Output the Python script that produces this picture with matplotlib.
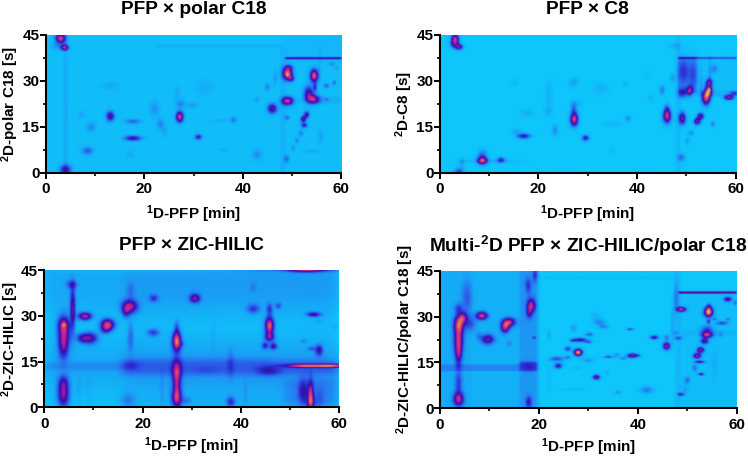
import numpy as np
import matplotlib
matplotlib.use("Agg")
import matplotlib.pyplot as plt
from matplotlib.colors import LinearSegmentedColormap
from matplotlib.ticker import MultipleLocator

plt.rcParams['font.family'] = ['Liberation Sans', 'DejaVu Sans']
plt.rcParams['font.weight'] = 'bold'
plt.rcParams['axes.labelweight'] = 'bold'
plt.rcParams['mathtext.fontset'] = 'custom'
plt.rcParams['mathtext.bf'] = 'Liberation Sans:bold'
plt.rcParams['mathtext.rm'] = 'Liberation Sans:bold'

# peaks: 1D time [min], 2D time [s], width in 1D, width in 2D, intensity
polar_peaks = [
    (2.9, 44, .5, 1.0, .72), (3.7, 41, .42, .6, .62), (3.9, 1, .6, 1.0, .42), (1.8, 41.5, .5, .8, .1),
    (3.9, 20, .25, 20, .07), (13, 18.5, .42, 1.0, .5), (17.6, 11.3, .85, .55, .44), (17.6, 16.8, .8, .5, .22),
    (8.4, 7.2, .6, .8, .24), (9.1, 15, .5, 1, .14), (7.2, 19, .4, .8, .07), (13, 28.5, .9, .7, .07),
    (17, 6, .4, .8, .07), (27.1, 18.3, .38, 1.1, .72), (27.3, 22.5, .5, .8, .15), (29.7, 22, .6, .6, .1),
    (26.6, 26, .35, 1.5, .07), (32.3, 28, .9, 1.5, .06), (30.9, 11.7, .38, .6, .36), (23.2, 16, .4, 1.2, .14),
    (24, 13.5, .3, 1, .08), (22, 21, .5, 1.5, .12), (38, 17.3, .3, .6, .2), (35.5, 17, .8, .4, .07),
    (36, 7.5, .5, .5, .07), (45.9, 21, .5, 1.0, .5), (42.8, 6, .5, 1.2, .13), (44.9, 28, .3, .8, .15),
    (42.8, 24, .3, .6, .1), (46.5, 31, .25, 1.5, .1), (49, 32.5, .5, 1.3, .82), (49, 32, .12, .35, .15),
    (49.8, 30.8, .3, .6, .35), (49.3, 34.5, .4, .5, .25), (49, 23.5, .6, .85, .7), (48.9, 18, .3, .5, .2),
    (48.8, 4.5, .3, .8, .2), (54.4, 31.8, .42, 1.3, .76), (54.2, 24, .7, .9, .55), (53.3, 26, .5, 1.5, .46),
    (52.9, 19, .3, .7, .42), (52.2, 17.5, .3, .7, .46), (52.4, 15.5, .35, .5, .36), (51.7, 13, .25, .6, .16),
    (50.9, 10.5, .25, .7, .14), (50.1, 8, .25, .6, .12), (54.6, 28, .2, 1, .3), (56.9, 28.5, .3, .5, .22),
    (58.5, 29.5, .2, .5, .2), (58, 35.5, .4, .5, .12), (59, 34, .2, .4, .1), (56.9, 24, .25, .4, .14),
    (55.7, 12, .3, 1.5, .08), (54, 7, .8, .3, .08), (55.5, 36, .15, 3, .06),
]
# boxes: 1D start, 1D end, 2D start, 2D end, level
polar_boxes = [
    (0, 60, 0, 45, .03), (22, 47.5, 41, 42, .045), (47.5, 48.6, 0, 42, .04), (48.5, 60, 37.2, 37.8, .5),
    (48.5, 60, 36, 45, .02), (54, 60, 22.5, 25, .05),
]

c8_peaks = [
    (3, 43.5, .4, 1.3, .72), (3.8, 41.2, .42, .6, .5), (2.4, 42, .3, .7, .15), (3.8, .3, .5, .8, .3),
    (4.4, 3.5, .3, 1, .13), (8.5, 4, .5, .8, .72), (8.5, 6, .5, 1, .2), (12.3, 4.2, .4, .6, .36),
    (10, 3.8, 3, .4, .08), (16.9, 12, .7, .55, .42), (15.5, 13.5, .6, .6, .1), (17.5, 19.5, .7, .8, .08),
    (15, 29.5, .4, .8, .05), (22, 25, .4, 3, .07), (21.8, 20, .5, 1, .08), (27.1, 17.5, .42, 1.4, .74),
    (27, 21, .3, 1.2, .2), (27, 29.5, .5, 1, .12), (27.5, 22.5, .6, .8, .08), (29.4, 11.4, .38, .6, .42),
    (23.2, 14, .3, 1.2, .16), (32.5, 27.5, .8, 1.2, .07), (38, 17.8, .3, .7, .16), (35, 16, 1, .6, .06),
    (37.4, 29, .3, .7, .07), (34.8, 7, .4, .7, .05), (45.9, 18.5, .42, 1.4, .7), (45.9, 21, .3, 1, .2),
    (49, 17.8, .38, 1.3, .56), (44.9, 27, .3, 1, .2), (42.5, 24.5, .3, .7, .08), (41.8, 32, .3, .8, .05),
    (47, 31, .3, .9, .12), (47.5, 41.5, .6, .6, .1), (48.8, 5, .4, .8, .22), (49, 26, .5, 1, .36),
    (50.5, 26.8, .35, 1, .48), (49.2, 33, .6, 3, .25), (51.2, 32, .5, 3.5, .2), (54.3, 26.8, .38, 1.2, .66),
    (53.8, 24.4, .42, 1.4, .72), (54.5, 27.3, .12, .3, .3), (54.4, 29.6, .35, .8, .45), (58.4, 24.6, .5, .5, .62),
    (59.5, 26, .5, .5, .3), (52.7, 18.5, .35, .7, .54), (52, 16.8, .35, .7, .56), (55.2, 16, .25, .6, .2),
    (54.6, 33, .2, 3, .1), (55.5, 34, .3, .8, .18), (52.8, 28, .15, 3, .1), (50.8, 13, .3, .6, .15),
    (50, 10.5, .25, .7, .14),
]
c8_boxes = [
    (47.7, 48.6, 0, 45, .05), (48.2, 60, 37.3, 37.8, .36), (48.2, 52, 26, 38, .1), (52, 60, 27, 38, .03),
    (52, 60, 25, 27, .07),
]

zic_peaks = [
    (4, 24.5, .5, 3.2, .56), (3.9, 27, .45, 1.3, .25), (4, 26.8, .12, .35, .2), (3.9, 19, .4, 2.5, .3), (3.9, 4, .48, 2.8, .52),
    (3.9, 8, .4, 1.5, .22), (5.8, 32, .22, 4.5, .45), (5.6, 40, .4, .8, .28), (8.3, 29.6, .55, .8, .6),
    (7.7, 22.5, .5, 1, .33), (9.4, 22.5, .6, 1.2, .44), (12.9, 26.8, .55, 1.2, .74), (12.4, 25, .4, .8, .2),
    (17.4, 32.8, .62, 1.4, .55), (16.6, 31, .3, 1.2, .25), (17.6, 23, .25, 3, .18), (17.6, 38, .3, 1.5, .12),
    (17.5, 13.5, .7, 1, .12), (17, 2, .6, 1.5, .14), (22.3, 35.5, .35, .8, .25), (22.2, 24.3, .5, .8, .28),
    (30.7, 35.5, .42, .9, .48), (28, 20.5, .3, .5, .1), (27, 21.5, .35, 2, .78), (27, 26, .2, 1.5, .18),
    (27, 11, .38, 3, .44), (27, 2.8, .42, 2, .52), (27, 6.5, .25, 3, .25), (29, 2, .4, .7, .12), (38, 1.5, .35, 1.1, .3),
    (38, 14, .3, 3, .1), (42.6, 32, .5, 1, .26), (42.6, 39, .25, 1, .08), (45.9, 26.5, .36, 1.8, .76),
    (45.9, 22.8, .4, .9, .42), (45.9, 32, .25, 1.2, .26), (45, 20, .26, .7, .32), (46.7, 19.8, .3, .7, .36),
    (47.7, 33, .25, .7, .2), (45.7, 11.8, .9, 1, .2), (53.5, 45, 1.4, .6, .5), (53.5, 45, 5, .5, .2),
    (54.3, 3.3, .22, 3.2, .54), (52.8, 5, .4, 2.5, .3), (54.3, 1, .4, 1.5, .2), (56.1, 2.5, .4, 2.5, .1),
    (54.9, 30.2, .55, .5, .42), (56, 18.5, .3, 1.1, .38), (52.8, 21.5, .25, .5, .1), (54.5, 19, .3, .5, .16),
    (59.3, 26, .3, .6, .06), (56, 28, .3, .5, .06), (34.5, 23, .2, 3, .04), (24, 5, .2, 4, .05),
    (7, 5, .2, 3, .05), (9, 4, .25, 3, .04), (33, 12, 1, .8, .05), (41, 4, .2, 3, .05),
    (52, 13.4, 1.2, .35, .3), (56, 13.4, 2.2, .35, .42), (60, 13.4, 1.8, .35, .36),
    (38, 26, 22, 4.5, -.09), (8, 2, 6, 4, -.04), (38, 3, 16, 3, -.04),
]
zic_boxes = [
    (0, 16, 12.4, 14, .12), (16, 46, 10.5, 15.5, .14), (46, 60, 10.6, 15, .14),
    (0, 60, 0, 45, .1), (16, 60, 0, 45, .03), (49, 60, 0, 9, .08),
]

multi_peaks = [
    (3.7, 23, .45, 3.8, .58), (3.8, 27.5, .5, 1.6, .4), (4.6, 29.5, .4, 1.1, .44), (3.7, 17.5, .3, 2.5, .3),
    (3.7, 32.5, .4, 1, .2), (3.7, 2.8, .5, 1.4, .56), (3.7, 8, .35, 2.5, .24), (5.4, 36, .5, 3.5, .18),
    (6, 27.5, .6, 1.5, .2), (8.4, 30.1, .55, .8, .66), (9.6, 22.4, .62, 1, .48), (7.8, 23.5, .3, .8, .12),
    (13.9, 28, .62, .9, .6), (13.1, 26.3, .42, 1.1, .58), (14, 21, .3, .7, .1), (18.4, 33.5, .42, 1.4, .52),
    (18, 31, .3, 1.2, .28), (17.8, 40, .3, 1.6, .22), (17.9, 1.8, .3, 1.2, .3), (17.9, 13.5, .8, 1, .14),
    (19.2, 43.5, .25, 1.5, .22), (19, 23, .2, .3, .2), (23.6, 16, .7, .5, .3), (23.9, 13.7, .4, .6, .42),
    (25.8, 19.3, .32, .5, .34), (25.8, 16.5, .3, .4, .2), (27.9, 18.1, .4, .7, .92), (28.3, 22.2, .7, .45, .45),
    (26.8, 22, .3, .3, .25), (30, 21.5, .4, .3, .25), (29.8, 15.5, .6, .5, .14), (30.2, 24, .4, .4, .25),
    (31.6, 10, .35, .5, .58), (32.2, 28, .6, .6, .18), (33, 26.5, .5, .5, .18), (31.5, 30, .5, .8, .08),
    (27, 26, .3, .8, .14), (34, 16.7, .4, .3, .25), (35.7, 17.3, .3, .3, .2), (37, 16, .3, .3, .18),
    (38.9, 17.1, .5, .45, .6), (40.2, 17.1, .25, .2, .2), (38.4, 25.7, .35, .3, .28), (36, 16.5, 2, .2, .08),
    (43.3, 23, .42, .45, .44), (41.8, 5.8, .65, .7, .2), (36, 5, .3, .4, .14), (45.8, 20.2, .36, .8, .62),
    (45.8, 23, .3, .6, .2), (47.7, 24.5, .3, .4, .14), (48.2, 22.8, .4, .4, .24), (47.7, 36, .28, 3, .17),
    (47, 27, .2, 4, .1), (48.8, 32.2, .45, .5, .68), (48.7, 4.4, .35, .4, .34), (54.3, 31.3, .42, .95, .92),
    (54.4, 33, .25, .7, .3), (54, 23.8, .55, .6, .62), (54, 25.5, .6, .9, .3), (53.5, 21.8, .38, .6, .5),
    (52.7, 18.9, .36, .6, .58), (52, 17, .38, .55, .6), (52.5, 15, .5, .3, .42), (52.8, 11, .3, .3, .4),
    (51.5, 13, .25, .7, .2), (50, 9, .3, .8, .2), (49.6, 6, .25, .7, .1), (58.2, 35.5, .38, .5, .5),
    (59.7, 34.3, .2, .5, .2), (57, 27.7, .6, .4, .28), (58.2, 29, .25, .3, .2), (55.5, 29, .25, .3, .2),
    (54.3, 28.2, .2, .5, .3), (56.8, 24, .25, .6, .12), (55.5, 14, .3, 3, .06), (22, 24, .2, 1, .1),
    (22, 10, .2, 3, .05), (27, 6, 1.5, .3, .05), (33.8, 11.5, .2, .5, .1), (27.7, 13, .4, .4, .06),
]
multi_boxes = [
    (0, 20, 0, 45, .09), (0, 16, 12, 14.2, .1), (16, 19.5, 0, 45, .05), (16, 19.7, 12, 15, .14),
    (20, 48, 42, 43, .03), (47.5, 48.6, 0, 45, .05), (48.3, 60, 37.4, 38, .65), (48.3, 60, 0, 37, .03),
    (49, 60, 23.5, 25.5, .03), (6.5, 16, 2, 45, -.02),
]

panels = [
    {"peaks": polar_peaks, "boxes": polar_boxes, "title": "PFP × polar C18", "edge": .25, "widen": 1.35, "ylab_x": 24.5,
     "ylabel": r"$\mathbf{^{2}}$D-polar C18 [s]", "rect": (45.7, 35, 341.3, 172.7), "title_y": 10, "xpad": 5},
    {"peaks": c8_peaks, "boxes": c8_boxes, "title": "PFP × C8", "edge": .25, "widen": 1.35, "ylab_x": 24.5,
     "ylabel": r"$\mathbf{^{2}}$D-C8 [s]", "rect": (439.7, 35, 735.7, 172.7), "title_y": 10, "xpad": 5},
    {"peaks": zic_peaks, "boxes": zic_boxes, "title": "PFP × ZIC-HILIC", "edge": 1.2, "widen": 1.75, "ylab_x": 23.2,
     "ylabel": r"$\mathbf{^{2}}$D-ZIC-HILIC [s]", "rect": (44.3, 270, 339.3, 407.3), "title_y": 246, "xpad": 3},
    {"peaks": multi_peaks, "boxes": multi_boxes, "title": r"Multi-$\mathbf{^{2}}$D PFP × ZIC-HILIC/polar C18", "edge": .25,
     "widen": 1.45, "ylab_x": 24.5, "ylabel": r"$\mathbf{^{2}}$D-ZIC-HILIC/polar C18 [s]",
     "rect": (440, 270.7, 736.7, 408.3), "title_y": 246, "xpad": 3},
]

cmap = LinearSegmentedColormap.from_list("gcxgc", [
    (0.00, "#0ec6fb"), (0.10, "#16a8f6"), (0.22, "#2a70ee"), (0.34, "#2a35d8"), (0.46, "#3010a8"),
    (0.56, "#8a14ac"), (0.66, "#c8208a"), (0.78, "#d85060"), (0.88, "#d89a40"), (0.94, "#a8e040"),
    (1.00, "#30f850"),
])


def build_field(peaks, boxes, edge, widen):
    # sum of the chromatographic peaks on a 1D/2D time grid
    x = np.linspace(0, 60, 500)
    y = np.linspace(0, 45, 260)
    xx, yy = np.meshgrid(x, y)
    z = np.zeros_like(xx)
    for x0, x1, y0, y1, level in boxes:
        z += level / 16 * (1 + np.tanh((xx - x0) / edge)) * (1 - np.tanh((xx - x1) / edge)) \
            * (1 + np.tanh((yy - y0) / edge)) * (1 - np.tanh((yy - y1) / edge))
    for px, py, wx, wy, h in peaks:
        z += h * np.exp(-0.5 * ((xx - px) / (wx * widen)) ** 2 - 0.5 * ((yy - py) / (wy * 1.1)) ** 2)
    return np.clip(z, 0, 1)


W, H = 748, 458
fig = plt.figure(figsize=(W / 100, H / 100), dpi=100)

for p in panels:
    left, top, right, bottom = p["rect"]
    ax = fig.add_axes([left / W, 1 - bottom / H, (right - left) / W, (bottom - top) / H])
    ax.imshow(build_field(p["peaks"], p["boxes"], p["edge"], p["widen"]), origin="lower", extent=(0, 60, 0, 45),
              aspect="auto", cmap=cmap, vmin=0, vmax=1, interpolation="bilinear")
    ax.set_xlim(0, 60)
    ax.set_ylim(0, 45)
    ax.xaxis.set_major_locator(MultipleLocator(20))
    ax.xaxis.set_minor_locator(MultipleLocator(10))
    ax.yaxis.set_major_locator(MultipleLocator(15))
    ax.yaxis.set_minor_locator(MultipleLocator(7.5))
    ax.tick_params(which="major", length=4, width=1.4, labelsize=11, pad=.5)
    ax.tick_params(axis="x", which="major", pad=3)
    ax.tick_params(which="minor", length=2.5, width=1.2)
    ax.spines["top"].set_visible(False)
    ax.spines["right"].set_visible(False)
    ax.spines["left"].set_linewidth(1.5)
    ax.spines["bottom"].set_linewidth(1.5)
    ax.set_xlabel(r"$\mathbf{^{1}}$D-PFP [min]", fontsize=11, labelpad=p["xpad"])
    ax.set_ylabel(p["ylabel"], fontsize=11)
    ax.yaxis.set_label_coords(-p["ylab_x"] / (right - left), 0.5)
    fig.text((left + right) / 2 / W, 1 - p["title_y"] / H, p["title"], fontsize=13.8, ha="center", va="center")

fig.savefig("out.png", dpi=100)
